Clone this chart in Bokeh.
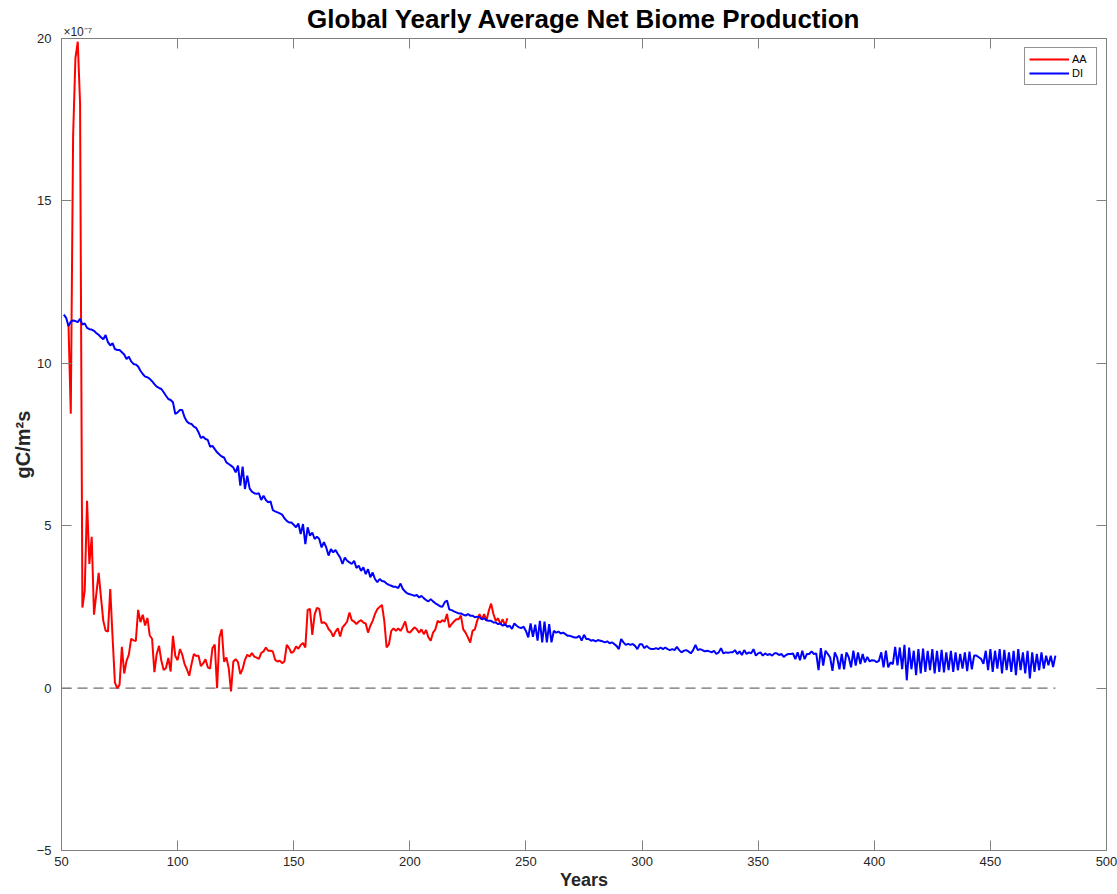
from bokeh.plotting import figure
from bokeh.models import Range1d, FixedTicker, LinearAxis
from bokeh.embed import file_html
from bokeh.resources import INLINE

# ---------------- data (values in units of 1e-7 gC/m^2/s) ----------------
aa_start_year = 53
aa_values = [
    11.2, 8.45, 17.0, 19.4, 19.9, 18.0, 2.48, 3.0, 5.77, 3.82,
    4.66, 2.26, 2.9, 3.55, 2.8, 2.07, 1.77, 1.74, 3.05, 1.56,
    0.17, 0.0, 0.1, 1.27, 0.45, 0.84, 1.03, 1.52, 1.47, 1.45,
    2.41, 2.03, 2.26, 1.93, 2.16, 1.62, 1.52, 0.49, 1.05, 1.3,
    0.84, 0.56, 0.62, 0.93, 0.51, 1.61, 0.99, 0.86, 1.2, 1.03,
    0.74, 0.58, 0.38, 0.74, 1.05, 0.99, 1.0, 0.68, 0.76, 0.89,
    0.64, 0.6, 1.23, 1.34, 0.0, 1.56, 1.81, 0.81, 0.94, 0.62,
    -0.1, 0.82, 0.89, 0.8, 0.43, 0.59, 0.87, 1.03, 0.97, 1.08,
    0.97, 0.94, 0.9, 1.08, 1.13, 1.25, 1.15, 1.15, 1.13, 0.87,
    0.82, 0.84, 0.77, 0.82, 1.33, 1.23, 1.08, 1.13, 1.28, 1.21,
    1.33, 1.39, 1.25, 2.41, 2.44, 1.64, 2.26, 2.47, 2.44, 2.0,
    2.03, 1.97, 1.82, 1.74, 1.59, 1.74, 1.84, 1.59, 1.87, 1.95,
    2.05, 2.33, 2.09, 2.05, 1.97, 2.05, 2.09, 2.02, 1.99, 1.71,
    1.92, 2.07, 2.28, 2.43, 2.5, 2.56, 2.07, 1.25, 1.35, 1.76,
    1.84, 1.76, 1.84, 1.76, 1.89, 2.05, 1.74, 1.71, 1.79, 1.87,
    1.81, 1.71, 1.81, 1.66, 1.79, 1.56, 1.46, 1.71, 1.81, 2.07,
    2.02, 2.09, 2.05, 2.28, 1.87, 1.97, 2.05, 2.12, 2.12, 2.23,
    1.81, 1.71, 1.56, 1.4, 1.76, 1.81, 2.07, 2.28, 2.12, 2.28,
    2.07, 2.38, 2.6, 2.28, 2.07, 2.15, 1.97, 2.12, 1.92, 2.15,
]

di_start_year = 51
di_values = [
    11.5, 11.4, 11.15, 11.28, 11.32, 11.3, 11.27, 11.37, 11.19, 11.23,
    11.09, 11.05, 11.04, 11.0, 10.93, 10.88, 10.8, 10.74, 10.87, 10.65,
    10.55, 10.62, 10.44, 10.41, 10.41, 10.34, 10.27, 10.13, 10.2, 10.06,
    9.98, 9.96, 9.9, 9.77, 9.67, 9.59, 9.57, 9.52, 9.45, 9.36,
    9.28, 9.24, 9.21, 9.11, 9.0, 8.9, 8.87, 8.8, 8.44, 8.49,
    8.56, 8.56, 8.34, 8.21, 8.15, 8.13, 8.05, 8.01, 7.88, 7.7,
    7.74, 7.67, 7.64, 7.43, 7.46, 7.36, 7.26, 7.19, 7.13, 7.1,
    6.95, 6.9, 6.85, 6.79, 6.64, 6.85, 6.23, 6.82, 6.13, 6.54,
    6.15, 6.05, 6.0, 5.98, 6.0, 5.79, 5.92, 5.79, 5.72, 5.75,
    5.48, 5.44, 5.41, 5.38, 5.34, 5.23, 5.15, 5.1, 5.1, 5.03,
    4.95, 5.07, 4.74, 5.05, 4.43, 4.95, 4.69, 4.79, 4.59, 4.66,
    4.59, 4.33, 4.49, 4.33, 4.08, 4.28, 4.18, 4.25, 4.13, 4.02,
    3.82, 4.02, 3.92, 3.87, 3.82, 3.92, 3.7, 3.77, 3.61, 3.72,
    3.51, 3.66, 3.41, 3.56, 3.36, 3.26, 3.36, 3.3, 3.28, 3.22,
    3.18, 3.15, 3.12, 3.12, 3.08, 3.22, 3.05, 2.97, 2.91, 2.89,
    2.87, 2.84, 2.87, 2.79, 2.84, 2.77, 2.71, 2.67, 2.74, 2.67,
    2.61, 2.57, 2.52, 2.5, 2.64, 2.7, 2.42, 2.4, 2.36, 2.33,
    2.3, 2.3, 2.26, 2.23, 2.28, 2.23, 2.23, 2.18, 2.2, 2.18,
    2.12, 2.15, 2.09, 2.07, 2.07, 2.02, 2.02, 1.97, 1.99, 1.92,
    1.97, 1.89, 1.92, 1.82, 1.99, 1.92, 1.87, 1.85, 1.89, 1.76,
    1.56, 1.99, 1.58, 1.95, 1.46, 2.07, 1.41, 2.05, 1.41, 1.97,
    1.41, 1.76, 1.71, 1.74, 1.68, 1.71, 1.66, 1.61, 1.61, 1.58,
    1.56, 1.56, 1.61, 1.46, 1.64, 1.51, 1.51, 1.46, 1.48, 1.44,
    1.48, 1.46, 1.44, 1.41, 1.44, 1.38, 1.41, 1.36, 1.3, 1.2,
    1.51, 1.41, 1.33, 1.36, 1.33, 1.36, 1.3, 1.2, 1.35, 1.35,
    1.23, 1.3, 1.23, 1.2, 1.2, 1.23, 1.2, 1.25, 1.2, 1.25,
    1.2, 1.17, 1.2, 1.17, 1.27, 1.17, 1.1, 1.15, 1.17, 1.13,
    1.07, 1.17, 1.33, 1.17, 1.2, 1.17, 1.13, 1.15, 1.13, 1.1,
    1.15, 1.05, 1.1, 1.23, 1.07, 1.1, 1.09, 1.1, 1.1, 1.17,
    1.05, 1.13, 1.02, 1.17, 1.05, 1.1, 1.07, 1.2, 1.0, 1.07,
    1.1, 1.0, 1.07, 1.02, 1.05, 1.0, 1.07, 1.07, 1.02, 1.05,
    0.96, 1.02, 1.05, 1.05, 1.07, 0.89, 1.1, 0.86, 1.15, 0.89,
    1.05, 1.05, 1.13, 1.05, 1.07, 0.55, 1.23, 0.69, 1.15, 1.05,
    0.94, 0.53, 1.1, 0.94, 0.58, 1.05, 0.58, 1.1, 0.95, 0.64,
    1.15, 0.69, 1.1, 0.74, 1.05, 0.79, 0.96, 0.82, 0.86, 0.85,
    0.8, 0.84, 1.1, 0.64, 1.15, 0.64, 0.79, 0.74, 1.27, 0.7,
    1.25, 0.58, 1.33, 0.24, 1.25, 0.58, 1.15, 0.4, 1.2, 0.45,
    1.22, 0.5, 1.15, 0.55, 1.2, 0.45, 1.15, 0.5, 1.18, 0.48,
    1.1, 0.55, 1.15, 0.5, 1.1, 0.55, 1.05, 0.6, 1.1, 0.52,
    1.12, 0.58, 1.0, 1.0, 0.95, 0.9, 0.75, 1.15, 0.55, 1.2,
    0.5, 1.15, 0.6, 1.2, 0.45, 1.18, 0.55, 1.1, 0.5, 1.15,
    0.4, 1.2, 0.55, 1.1, 0.45, 1.15, 0.3, 1.1, 0.5, 1.05,
    0.55, 1.1, 0.6, 1.0, 0.7, 1.0, 0.65, 1.0,
]

aa_years = list(range(aa_start_year, aa_start_year + len(aa_values)))
di_years = list(range(di_start_year, di_start_year + len(di_values)))

x_ticks = [50, 100, 150, 200, 250, 300, 350, 400, 450, 500]
y_ticks = [-5, 0, 5, 10, 15, 20]
x_limits = (50, 500)
y_limits = (-5, 20)

title_text = "Global Yearly Average Net Biome Production"
exponent_text = "×10⁻⁷"

# zero reference line spans from the axis start to the end of the DI record
zero_ref_years = [x_limits[0], di_years[-1]]
zero_ref_values = [0, 0]

FONT = "Liberation Sans"
AX_COLOR = "#808080"
TXT_COLOR = "#262626"

p = figure(
    width=1117, height=894,
    x_range=Range1d(*x_limits), y_range=Range1d(*y_limits),
    output_backend="svg", toolbar_location=None,
    min_border_left=61, min_border_right=11, min_border_top=38, min_border_bottom=44,
    background_fill_color="white", border_fill_color="white",
)
p.title.visible = False

p.xgrid.visible = False
p.ygrid.visible = False
p.outline_line_color = AX_COLOR


def style_axis(ax, ticks):
    ax.ticker = FixedTicker(ticks=ticks)
    ax.major_tick_in = 10
    ax.major_tick_out = 0
    ax.minor_tick_in = 0
    ax.minor_tick_out = 0
    ax.axis_line_color = AX_COLOR
    ax.major_tick_line_color = AX_COLOR
    ax.major_label_text_font = FONT
    ax.major_label_text_font_size = "13px"
    ax.major_label_text_color = TXT_COLOR
    ax.axis_label_text_font = FONT
    ax.axis_label_text_font_style = "bold"
    ax.axis_label_text_color = TXT_COLOR


style_axis(p.xaxis[0], x_ticks)
style_axis(p.yaxis[0], y_ticks)
p.xaxis.axis_label = "Years"
p.xaxis.axis_label_text_font_size = "18px"
p.xaxis.major_label_standoff = 6
p.xaxis.axis_label_standoff = 1
p.yaxis.axis_label = "gC/m²s"
p.yaxis.axis_label_text_font_size = "20px"
p.yaxis.major_label_standoff = 10
p.yaxis.axis_label_standoff = 0

# mirrored tick marks on the top and right edges (no labels, as in the reference)
top_ax = LinearAxis()
style_axis(top_ax, x_ticks)
top_ax.major_label_text_font_size = "0px"
top_ax.major_label_text_color = None
top_ax.major_label_standoff = 0
p.add_layout(top_ax, "above")

right_ax = LinearAxis()
style_axis(right_ax, y_ticks)
right_ax.major_label_text_font_size = "0px"
right_ax.major_label_text_color = None
right_ax.major_label_standoff = 0
p.add_layout(right_ax, "right")

# header guide: axis exponent (left, just above the frame) and the bold title
exp_center_year = x_limits[0] + 7
head_ax = LinearAxis(ticker=FixedTicker(ticks=[exp_center_year]),
                     major_label_overrides={exp_center_year: exponent_text})
head_ax.major_tick_in = 0
head_ax.major_tick_out = 0
head_ax.minor_tick_in = 0
head_ax.minor_tick_out = 0
head_ax.axis_line_color = None
head_ax.major_tick_line_color = None
head_ax.major_label_standoff = 0
head_ax.major_label_text_font = FONT
head_ax.major_label_text_font_size = "12px"
head_ax.major_label_text_color = TXT_COLOR
head_ax.axis_label = title_text
head_ax.axis_label_text_font = FONT
head_ax.axis_label_text_font_size = "26px"
head_ax.axis_label_text_font_style = "bold"
head_ax.axis_label_text_color = "black"
head_ax.axis_label_standoff = -12
p.add_layout(head_ax, "above")

# zero reference (dashed)
p.line(zero_ref_years, zero_ref_values, line_color="#6e6e6e", line_width=1.2, line_dash="10 6")

p.line(aa_years, aa_values, line_color="#FF0000", line_width=2, legend_label="AA")
p.line(di_years, di_values, line_color="#0000FF", line_width=2, legend_label="DI")

lg = p.legend[0]
lg.location = "top_right"
lg.margin = 9
lg.padding = 4
lg.spacing = 0
lg.glyph_width = 40
lg.glyph_height = 14
lg.label_height = 14
lg.label_standoff = 3
lg.label_text_font = FONT
lg.label_text_font_size = "11px"
lg.label_text_color = "black"
lg.border_line_color = "#262626"
lg.border_line_width = 0.8
lg.background_fill_alpha = 1.0

open("out.html", "w").write(file_html(p, INLINE))
